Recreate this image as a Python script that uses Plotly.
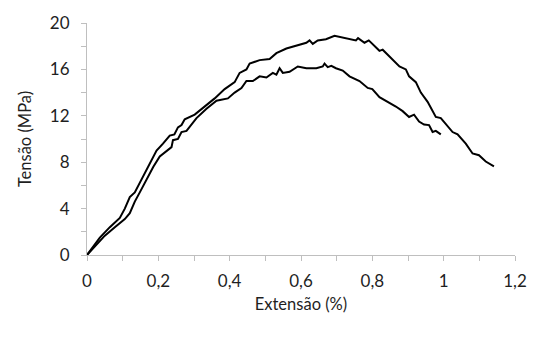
import plotly.graph_objects as go

# Stress-strain curves of two specimens (strain in %, stress in MPa)
strain_a = [0, 0.036, 0.064, 0.092, 0.106, 0.12, 0.134, 0.148, 0.158, 0.176, 0.195, 0.213,
            0.232, 0.245, 0.255, 0.265, 0.274, 0.302, 0.33, 0.358, 0.386, 0.414, 0.428,
            0.447, 0.456, 0.484, 0.512, 0.531, 0.559, 0.587, 0.615, 0.624, 0.633,
            0.647, 0.67, 0.694, 0.726, 0.754, 0.76, 0.778, 0.79, 0.8, 0.82, 0.829, 0.848,
            0.876, 0.894, 0.903, 0.922, 0.936, 0.955, 0.969, 0.978, 0.992, 1.006, 1.025,
            1.039, 1.062, 1.081, 1.099, 1.118, 1.141]
stress_a = [0, 1.5, 2.4, 3.2, 4.0, 5.0, 5.4, 6.25, 6.8, 7.9, 9.0, 9.6,
            10.3, 10.4, 11.0, 11.2, 11.7, 12.1, 12.8, 13.5, 14.3, 14.9, 15.7,
            16.0, 16.5, 16.8, 16.9, 17.4, 17.8, 18.05, 18.3, 18.5, 18.2,
            18.5, 18.6, 18.9, 18.7, 18.5, 18.7, 18.3, 18.5, 18.2, 17.6, 17.7, 17.1,
            16.25, 16.0, 15.4, 14.9, 14.0, 13.2, 12.4, 11.9, 11.8, 11.25, 10.6,
            10.4, 9.6, 8.75, 8.6, 8.06, 7.64]

strain_b = [0, 0.05, 0.078, 0.106, 0.12, 0.134, 0.148, 0.167, 0.186, 0.204, 0.223, 0.237,
            0.241, 0.255, 0.265, 0.279, 0.307, 0.335, 0.363, 0.395, 0.414, 0.433, 0.447,
            0.465, 0.484, 0.503, 0.521, 0.531, 0.54, 0.549, 0.568, 0.591, 0.615, 0.643,
            0.661, 0.666, 0.675, 0.685, 0.698, 0.717, 0.736, 0.764, 0.787, 0.8, 0.82,
            0.838, 0.866, 0.885, 0.903, 0.917, 0.931, 0.945, 0.959, 0.969, 0.978, 0.992]
stress_b = [0, 1.67, 2.4, 3.1, 3.6, 4.6, 5.4, 6.5, 7.6, 8.5, 9.0, 9.3,
            9.9, 10.0, 10.6, 10.7, 11.8, 12.6, 13.3, 13.5, 14.0, 14.4, 15.0,
            15.0, 15.4, 15.3, 15.7, 15.55, 16.1, 15.7, 15.8, 16.25, 16.1, 16.1,
            16.25, 16.5, 16.2, 16.3, 16.1, 15.9, 15.4, 15.0, 14.4, 14.3, 13.6,
            13.3, 12.8, 12.4, 11.9, 12.1, 11.5, 11.25, 11.2, 10.6, 10.7, 10.4]

x_ticks = [0, 0.2, 0.4, 0.6, 0.8, 1.0, 1.2]
y_ticks = [0, 4, 8, 12, 16, 20]

FONT = "Lato, Roboto, sans-serif"
AXIS_GREY = "#bfbfbf"

fig = go.Figure()
for xs, ys in ((strain_a, stress_a), (strain_b, stress_b)):
    fig.add_trace(go.Scatter(x=xs, y=ys, mode="lines",
                             line=dict(color="black", width=2),
                             showlegend=False, hoverinfo="skip"))

fig.update_layout(
    width=539, height=338,
    margin=dict(l=87, r=23, t=15, b=83),
    paper_bgcolor="white", plot_bgcolor="white",
    separators=", ",
    font=dict(family=FONT, size=17, color="#1f1f1f"),
    xaxis=dict(
        range=[0, 1.2], tickvals=x_ticks, ticktext=[f"{v:g}".replace(".", ",") for v in x_ticks],
        showgrid=False, zeroline=False, showline=True, linecolor=AXIS_GREY, linewidth=1,
        ticks="outside", ticklen=5, tickcolor=AXIS_GREY, tickwidth=1,
        ticklabelstandoff=6,
        minor=dict(dtick=0.1, ticks="outside", ticklen=5, tickcolor=AXIS_GREY, tickwidth=1),
        title=dict(text="Extensão (%)", font=dict(size=16.5), standoff=8),
    ),
    yaxis=dict(
        range=[0, 20], tickvals=y_ticks,
        showgrid=False, zeroline=False, showline=True, linecolor=AXIS_GREY, linewidth=1,
        ticks="outside", ticklen=5, tickcolor=AXIS_GREY, tickwidth=1,
        ticklabelstandoff=8,
        minor=dict(dtick=2, ticks="outside", ticklen=5, tickcolor=AXIS_GREY, tickwidth=1),
        title=dict(text="Tensão (MPa)", font=dict(size=16.5), standoff=14),
    ),
)

fig.write_html("out.html")
